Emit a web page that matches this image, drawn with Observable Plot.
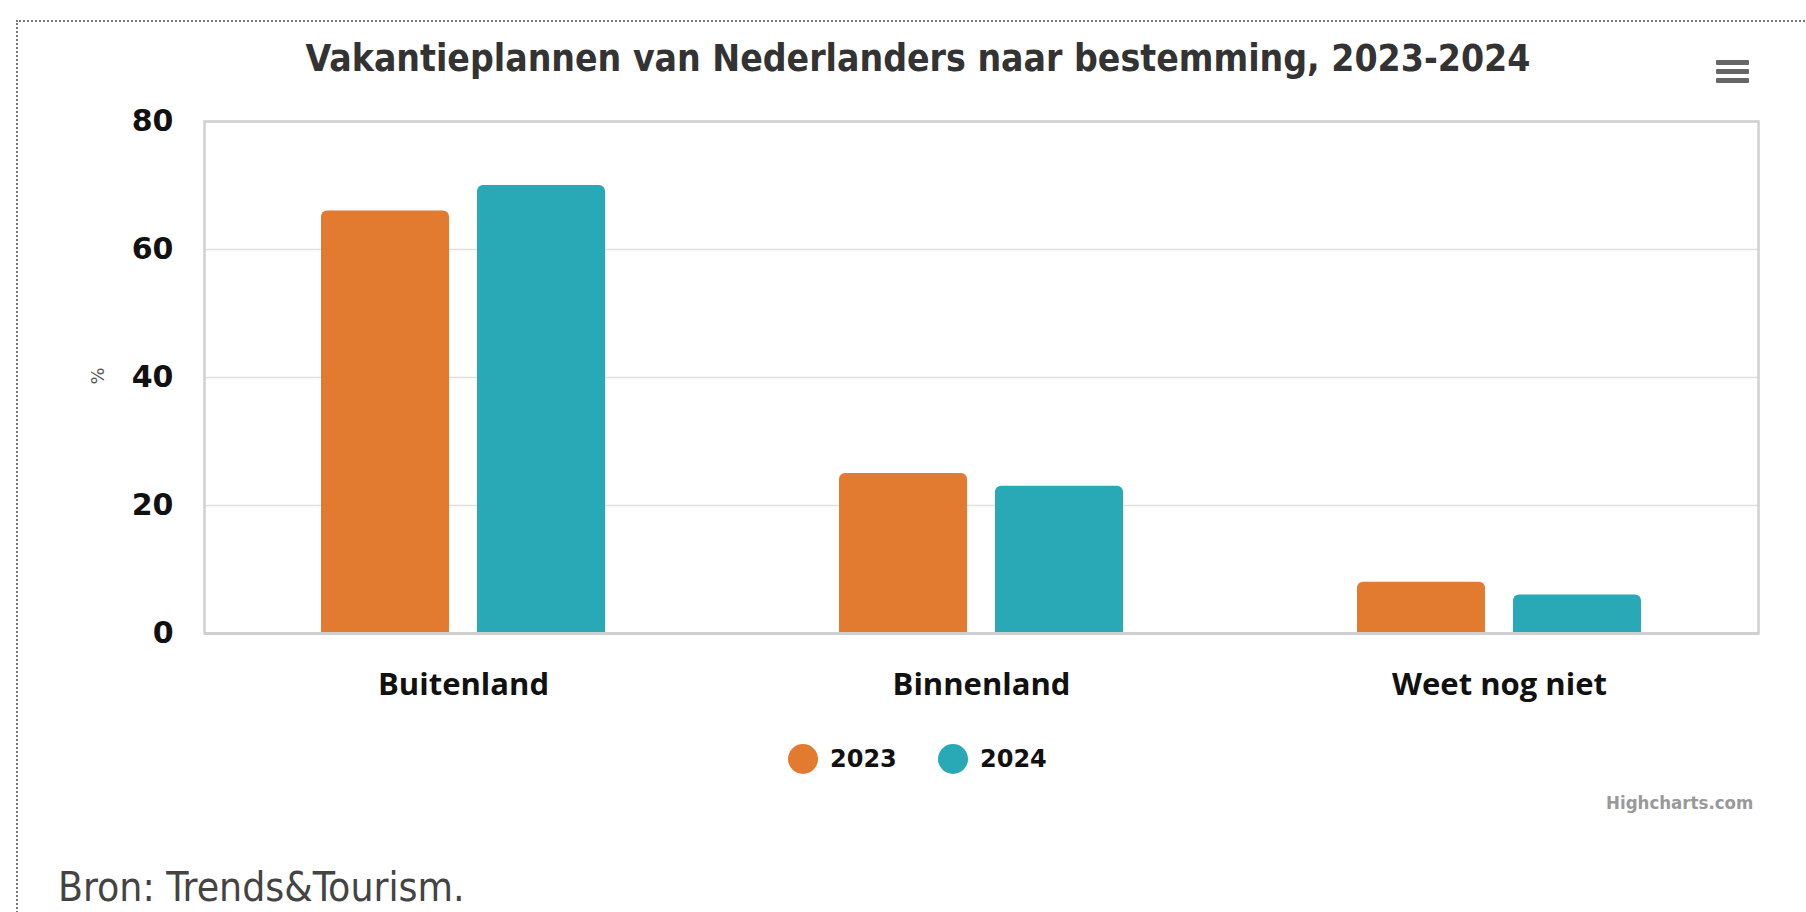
<!DOCTYPE html>
<html>
<head>
<meta charset="utf-8">
<script src="https://cdn.jsdelivr.net/npm/d3@7"></script>
<script src="https://cdn.jsdelivr.net/npm/@observablehq/plot@0.6"></script>
<style>
  html, body { margin: 0; padding: 0; background: #fff; }
  body { width: 1806px; height: 912px; position: relative; overflow: hidden; }
  #frame { position: absolute; left: 16px; top: 20px; width: 1800px; height: 900px;
           border-left: 2px dotted #777; border-top: 2px dotted #777; box-sizing: border-box; }
  #title { position: absolute; left: 0; width: 1836px; top: 40px; text-align: center;
           font-family: "DejaVu Sans Condensed", "Liberation Sans Narrow", sans-serif; font-stretch: condensed;
           font-weight: bold; font-size: 37px; color: #333; line-height: 1; }
  #menu { position: absolute; left: 1716px; top: 60px; width: 33px; }
  #menu div { height: 5px; background: #666; margin-bottom: 4px; border-radius: 1px; }
  #chart { position: absolute; left: 0; top: 0; }
  #legend { position: absolute; top: 744px; left: 0; width: 1806px;
            font-family: "DejaVu Sans", sans-serif; font-weight: bold; font-size: 24px; color: #111; }
  .item { position: absolute; display: flex; align-items: center; }
  .dot { width: 30px; height: 30px; border-radius: 50%; margin-right: 12px; }
  #credits { position: absolute; left: 1606px; top: 792px; font-family: "DejaVu Sans Condensed", sans-serif;
             font-stretch: condensed; font-weight: bold; font-size: 18.5px; color: #999; }
  #caption { position: absolute; left: 58px; top: 865px; font-family: "DejaVu Sans Condensed", "Liberation Sans Narrow", sans-serif;
             font-stretch: condensed; font-size: 40.5px; color: #444; line-height: 1.1; }
</style>
</head>
<body>
<div id="frame"></div>
<div id="chart"></div>
<div id="title"></div>
<div id="menu"><div></div><div></div><div></div></div>
<div id="legend"></div>
<div id="credits">Highcharts.com</div>
<div id="caption"></div>
<script>
const titleText = "Vakantieplannen van Nederlanders naar bestemming, 2023-2024";
const captionText = "Bron: Trends&Tourism.";
const yLabel = "%";
const categories = ["Buitenland", "Binnenland", "Weet nog niet"];
const years = ["2023", "2024"];
const values2023 = [66, 25, 8];
const values2024 = [70, 23, 6];
const yTicks = [0, 20, 40, 60, 80];
const colors = ["#E27A30", "#29A9B6"];

const data = [];
categories.forEach((c, i) => {
  data.push({category: c, year: years[0], value: values2023[i]});
  data.push({category: c, year: years[1], value: values2024[i]});
});

document.getElementById("title").textContent = titleText;
document.getElementById("caption").textContent = captionText;

const W = 1806, H = 730;
const plot = Plot.plot({
  width: W,
  height: H,
  marginLeft: 204,
  marginRight: 48,
  marginTop: 121,
  marginBottom: 97,
  style: {background: "transparent", overflow: "visible"},
  fx: {domain: categories, padding: 0, label: null, axis: "bottom", tickSize: 0, tickPadding: 39},
  x: {domain: years, axis: null, paddingInner: 0.1795, paddingOuter: 0.75},
  y: {domain: [0, 80], ticks: yTicks, label: null, tickSize: 0, tickPadding: 31},
  color: {domain: years, range: colors},
  marks: [
    Plot.gridY(yTicks, {stroke: "#e0e0e0", strokeOpacity: 1, strokeWidth: 1.5}),
    Plot.barY(data, {fx: "category", x: "year", y: "value", fill: "year", ry1: 6}),
    Plot.ruleY([0], {stroke: "#c8c8c8", strokeWidth: 3}),
    Plot.frame({stroke: "#d0d0d0", strokeWidth: 2.5, facet: "super"})
  ]
});
document.getElementById("chart").appendChild(plot);

const svg = d3.select(plot);
svg.selectAll("[aria-label='y-axis tick label']")
  .attr("font-family", "DejaVu Sans, sans-serif").attr("font-weight", "bold").attr("font-size", 30).attr("fill", "#111");
svg.selectAll("[aria-label='fx-axis tick label']")
  .attr("font-family", "Open Sans, sans-serif").attr("font-weight", "bold").attr("font-size", 31).attr("fill", "#111");

svg.append("text")
  .attr("transform", "translate(104,376) rotate(-90)")
  .attr("text-anchor", "middle")
  .attr("font-family", "DejaVu Sans, sans-serif")
  .attr("font-size", 18)
  .attr("fill", "#555")
  .text(yLabel);

const legend = document.getElementById("legend");
const lefts = [788, 938];
years.forEach((y, i) => {
  const it = document.createElement("div");
  it.className = "item";
  it.style.left = lefts[i] + "px";
  const d = document.createElement("div");
  d.className = "dot";
  d.style.background = colors[i];
  const t = document.createElement("span");
  t.textContent = y;
  it.appendChild(d); it.appendChild(t);
  legend.appendChild(it);
});
</script>
</body>
</html>
